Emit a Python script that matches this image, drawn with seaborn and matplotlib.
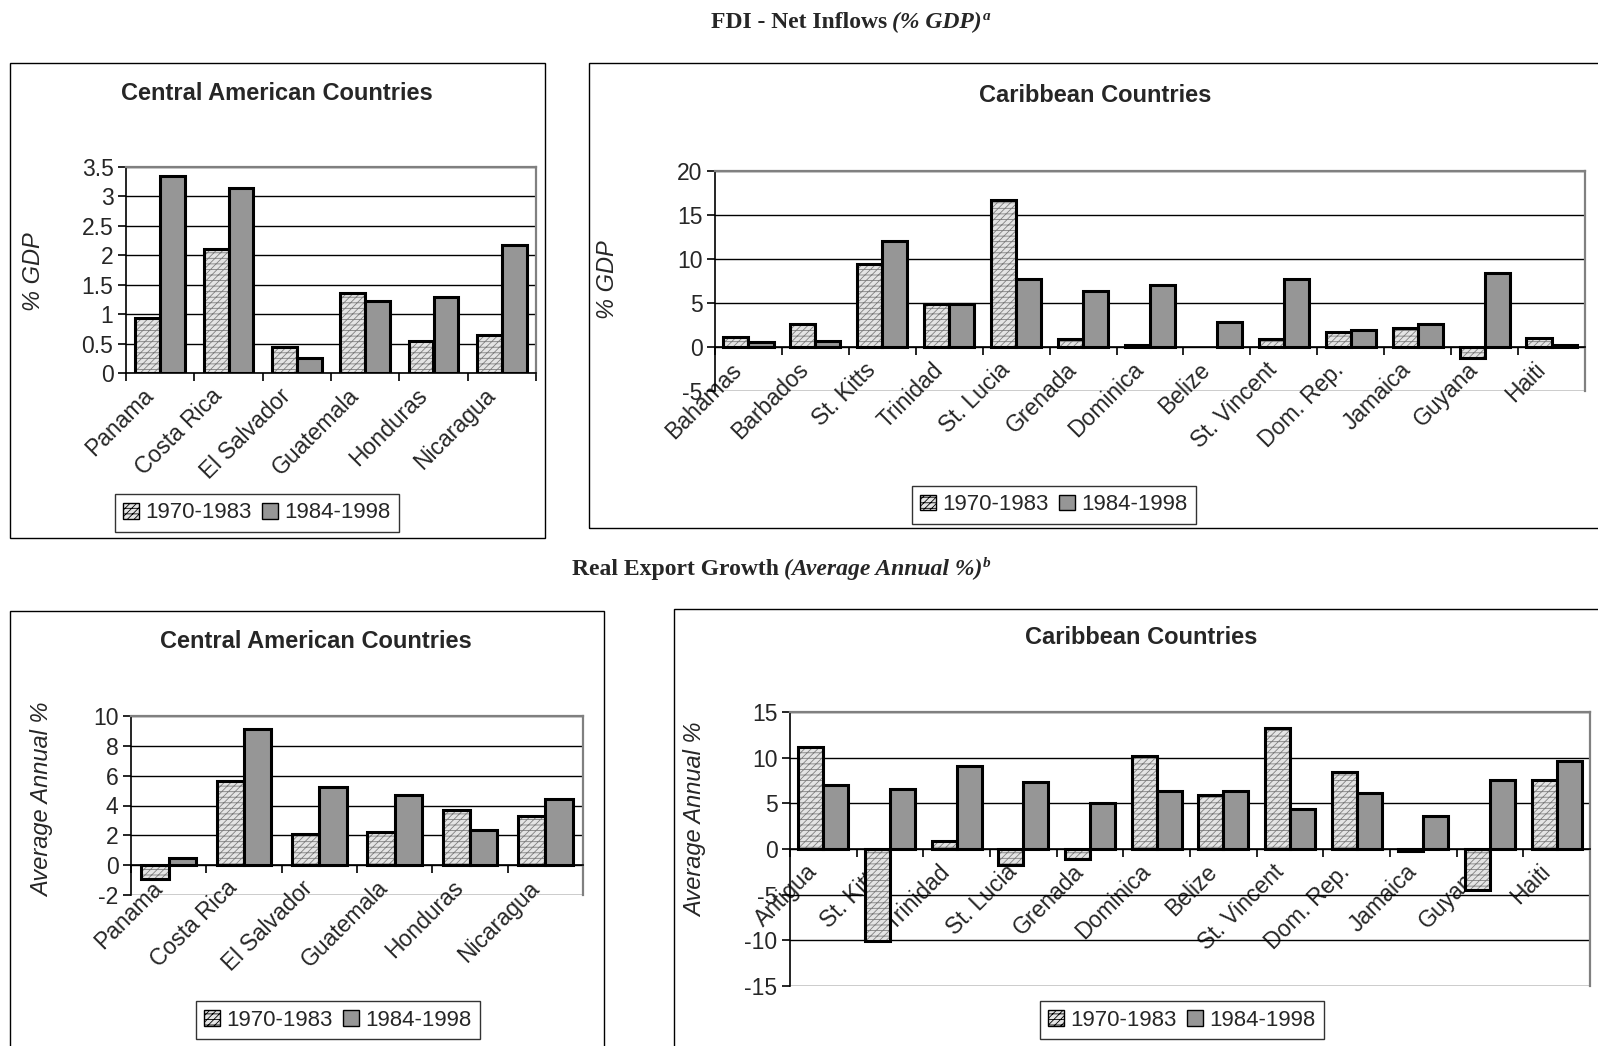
import numpy as np
import pandas as pd
import matplotlib
matplotlib.use("Agg")
import matplotlib.pyplot as plt
import seaborn as sns
from matplotlib.patches import Rectangle, Patch
from matplotlib.ticker import FixedLocator, FuncFormatter
from matplotlib.transforms import ScaledTranslation

# ---------------- data ----------------
periods = ["1970-1983", "1984-1998"]

ca_countries = ["Panama", "Costa Rica", "El Salvador", "Guatemala", "Honduras", "Nicaragua"]
fdi_ca_7083 = [0.93, 2.11, 0.44, 1.36, 0.54, 0.65]
fdi_ca_8498 = [3.34, 3.14, 0.26, 1.22, 1.29, 2.18]

fdi_car_countries = ["Bahamas", "Barbados", "St. Kitts", "Trinidad", "St. Lucia", "Grenada",
                     "Dominica", "Belize", "St. Vincent", "Dom. Rep.", "Jamaica", "Guyana", "Haiti"]
fdi_car_7083 = [1.17, 2.64, 9.4, 4.94, 16.7, 0.94, 0.26, np.nan, 0.94, 1.66, 2.11, -1.2, 0.98]
fdi_car_8498 = [0.53, 0.72, 12.04, 4.94, 7.77, 6.38, 7.06, 2.83, 7.77, 1.92, 2.64, 8.45, 0.26]

exp_ca_7083 = [-0.9, 5.66, 2.06, 2.19, 3.71, 3.29]
exp_ca_8498 = [0.51, 9.13, 5.26, 4.7, 2.33, 4.43]

exp_car_countries = ["Antigua", "St. Kitts", "Trinidad", "St. Lucia", "Grenada", "Dominica",
                     "Belize", "St. Vincent", "Dom. Rep.", "Jamaica", "Guyana", "Haiti"]
exp_car_7083 = [11.17, -10.1, 0.91, -1.75, -1.1, 10.2, 5.91, 13.2, 8.43, -0.2, -4.45, 7.52]
exp_car_8498 = [7.04, 6.6, 9.12, 7.3, 5.04, 6.39, 6.39, 4.38, 6.13, 3.65, 7.52, 9.6]

fdi_ca_ticks = [0, 0.5, 1, 1.5, 2, 2.5, 3, 3.5]
fdi_car_ticks = [-5, 0, 5, 10, 15, 20]
exp_ca_ticks = [-2, 0, 2, 4, 6, 8, 10]
exp_car_ticks = [-15, -10, -5, 0, 5, 10, 15]

# ---------------- style ----------------
sns.set_style("white")
plt.rcParams["font.family"] = ["Liberation Sans", "DejaVu Sans"]
plt.rcParams["hatch.linewidth"] = 0.6

W, H = 1598, 1046
fig = plt.figure(figsize=(W / 100, H / 100), dpi=100)
fig.patch.set_facecolor("white")

LIGHT = "#e4e4e4"
DARK = "#969696"
HATCH = "/////---"
FS = 16.5
SERIF = ["Liberation Serif", "DejaVu Serif"]


def fx(x):
    return x / W


def fy(y):
    return 1 - y / H


def add_axes(x0, y0, x1, y1):
    return fig.add_axes([fx(x0), fy(y1), (x1 - x0) / W, (y1 - y0) / H])


def panel(ax, countries, v1, v2, ticks, width):
    df = pd.DataFrame({
        "country": countries * 2,
        "period": [periods[0]] * len(countries) + [periods[1]] * len(countries),
        "value": list(v1) + list(v2),
    }).dropna()
    sns.barplot(data=df, x="country", y="value", hue="period", order=countries,
                hue_order=periods, palette={periods[0]: LIGHT, periods[1]: DARK},
                width=width, gap=0, edgecolor="black", linewidth=2.2, saturation=1,
                errorbar=None, legend=False, ax=ax, zorder=3)
    for bar in ax.containers[0]:
        bar.set_hatch(HATCH)
        try:
            bar._hatch_color = (0.5, 0.5, 0.5, 1.0)
        except Exception:
            pass
    n = len(countries)
    ax.set_xlim(-0.5, n - 0.5)
    ax.set_ylim(ticks[0], ticks[-1])
    ax.yaxis.set_major_locator(FixedLocator(ticks))
    ax.yaxis.set_major_formatter(FuncFormatter(lambda v, p: f"{v:g}"))
    ax.yaxis.grid(True, color="black", lw=1.0, zorder=0)
    ax.xaxis.grid(False)
    ax.set_axisbelow(True)
    ax.set_xlabel("")
    ax.set_ylabel("")
    ax.spines["bottom"].set_position(("data", 0))
    ax.spines["bottom"].set_color("black")
    ax.spines["bottom"].set_linewidth(1.2)
    ax.spines["bottom"].set_zorder(4)
    ax.spines["left"].set_color("black")
    ax.spines["left"].set_linewidth(1.2)
    for s in ("top", "right"):
        ax.spines[s].set_color("#808080")
        ax.spines[s].set_linewidth(1.6)
    ax.set_xticks(range(n))
    ax.set_xticklabels(countries, rotation=45, ha="right", va="center",
                       rotation_mode="anchor", fontsize=FS)
    ax.set_xticks(np.arange(-0.5, n, 1.0), minor=True)
    ax.tick_params(axis="x", which="major", length=0, pad=14)
    ax.tick_params(axis="x", which="minor", length=6, width=1.2, color="black",
                   direction="out", bottom=True)
    ax.tick_params(axis="y", which="major", length=6, width=1.2, color="black",
                   direction="out", left=True, labelsize=FS, pad=3)
    off = ScaledTranslation(-10 / 100, 0, fig.dpi_scale_trans)
    for lab in ax.get_xticklabels():
        lab.set_transform(lab.get_transform() + off)
    ax.patch.set_alpha(0)


def frame(x0, y0, x1, y1):
    fig.add_artist(Rectangle((fx(x0), fy(y1)), (x1 - x0) / W, (y1 - y0) / H,
                             transform=fig.transFigure, fill=False,
                             edgecolor="black", lw=1.0, zorder=0))


def legend(cx, cy):
    handles = [Patch(facecolor=LIGHT, edgecolor="black", hatch=HATCH, lw=1.0, label=periods[0]),
               Patch(facecolor=DARK, edgecolor="black", lw=1.0, label=periods[1])]
    lg = fig.legend(handles=handles, loc="center", bbox_to_anchor=(fx(cx), fy(cy)),
                    ncol=2, frameon=True, fancybox=False, edgecolor="black",
                    fontsize=16, handlelength=0.7, handleheight=0.7,
                    handletextpad=0.3, columnspacing=0.45, borderpad=0.4,
                    borderaxespad=0)
    lg.get_frame().set_linewidth(1.0)


def title(cx, cy, s):
    fig.text(fx(cx), fy(cy), s, ha="center", va="center", fontsize=17, fontweight="bold")


def ylab(cx, cy, s):
    fig.text(fx(cx), fy(cy), s, ha="center", va="center", rotation=90,
             fontsize=17, fontstyle="italic")


renderer = fig.canvas.get_renderer()


def header(cx, base_y, plain, ital, sup):
    t1 = fig.text(0, fy(base_y), plain, ha="left", va="baseline", fontsize=17,
                  fontweight="bold", family=SERIF)
    t2 = fig.text(0, fy(base_y), ital, ha="left", va="baseline", fontsize=17,
                  fontweight="bold", fontstyle="italic", family=SERIF)
    t3 = fig.text(0, fy(base_y - 8), sup, ha="left", va="baseline", fontsize=11,
                  fontweight="bold", fontstyle="italic", family=SERIF)
    w1 = t1.get_window_extent(renderer).width
    w2 = t2.get_window_extent(renderer).width
    w3 = t3.get_window_extent(renderer).width
    gap = 5
    total = w1 + gap + w2 + 1 + w3
    x0 = cx - total / 2
    t1.set_x(fx(x0))
    t2.set_x(fx(x0 + w1 + gap))
    t3.set_x(fx(x0 + w1 + gap + w2 + 1))


# ---------------- headers ----------------
header(851, 28, "FDI - Net Inflows", "(% GDP)", "a")
header(781, 575, "Real Export Growth", "(Average Annual %)", "b")

# ---------------- panel 1 ----------------
frame(10, 63, 545, 538)
ax1 = add_axes(126, 167, 536, 373)
panel(ax1, ca_countries, fdi_ca_7083, fdi_ca_8498, fdi_ca_ticks, 0.73)
title(277, 94, "Central American Countries")
ylab(33, 272, "% GDP")
legend(257, 513)

# ---------------- panel 2 ----------------
frame(589, 63, 1640, 528)
ax2 = add_axes(715, 171, 1585, 391)
panel(ax2, fdi_car_countries, fdi_car_7083, fdi_car_8498, fdi_car_ticks, 0.75)
title(1095, 95, "Caribbean Countries")
ylab(608, 280, "% GDP")
legend(1054, 505)

# ---------------- panel 3 ----------------
frame(10, 611, 604, 1080)
ax3 = add_axes(131, 716, 583, 895)
panel(ax3, ca_countries, exp_ca_7083, exp_ca_8498, exp_ca_ticks, 0.73)
title(316, 642, "Central American Countries")
ylab(43, 800, "Average Annual %")
legend(338, 1020)

# ---------------- panel 4 ----------------
frame(674, 609, 1640, 1080)
ax4 = add_axes(790, 712, 1590, 986)
panel(ax4, exp_car_countries, exp_car_7083, exp_car_8498, exp_car_ticks, 0.75)
title(1141, 637, "Caribbean Countries")
ylab(696, 820, "Average Annual %")
legend(1182, 1020)

fig.savefig("out.png", dpi=100, facecolor="white")
